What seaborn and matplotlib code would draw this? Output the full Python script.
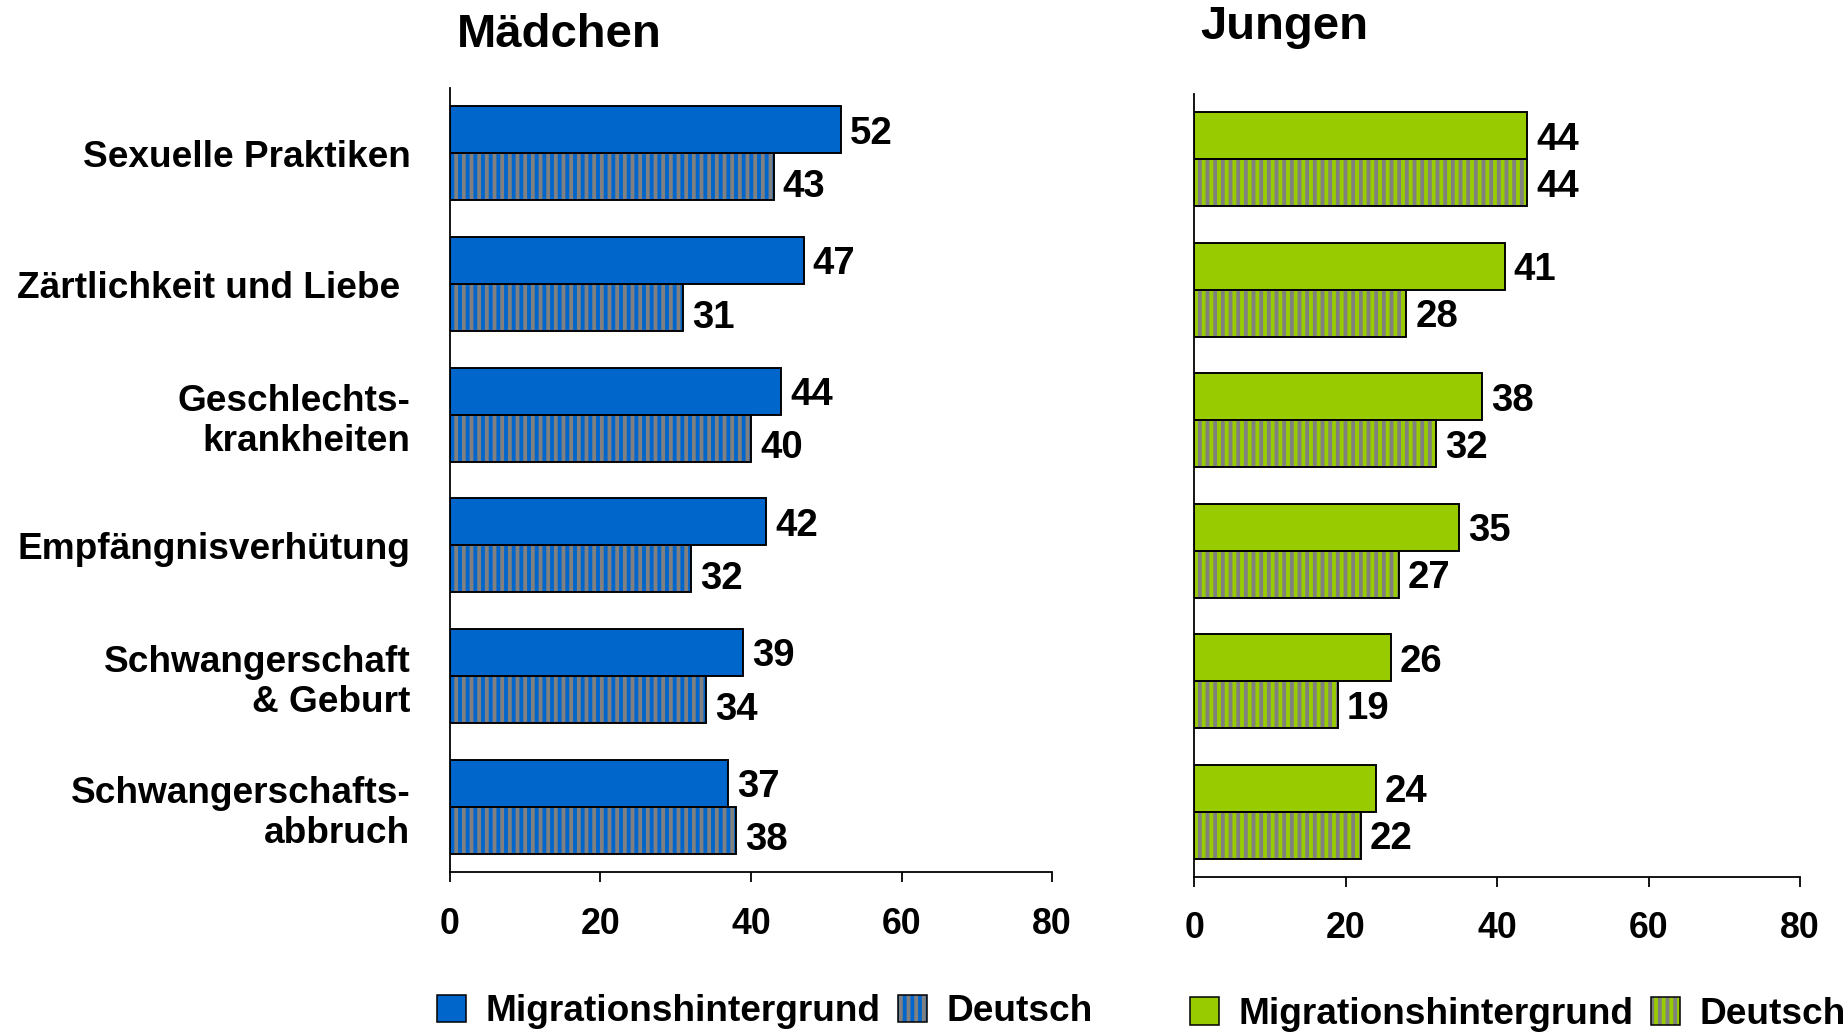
import pandas as pd
import matplotlib.pyplot as plt
import seaborn as sns
from matplotlib.patches import Patch, Rectangle

categories = ["Sexuelle Praktiken", "Zärtlichkeit und Liebe ", "Geschlechts-\nkrankheiten",
              "Empfängnisverhütung", "Schwangerschaft\n& Geburt", "Schwangerschafts-\nabbruch"]
groups = ["Migrationshintergrund", "Deutsch"]
maedchen_migration = [52, 47, 44, 42, 39, 37]
maedchen_deutsch = [43, 31, 40, 32, 34, 38]
jungen_migration = [44, 41, 38, 35, 26, 24]
jungen_deutsch = [44, 28, 32, 27, 19, 22]
x_ticks = [0, 20, 40, 60, 80]

blue = "#0066cc"
green = "#99cc00"
stripe = "#808080"
DPI = 92

sns.set_style("white", {"axes.edgecolor": "black", "xtick.color": "black", "ytick.color": "black",
                        "text.color": "black", "axes.labelcolor": "black"})
plt.rcParams["font.family"] = ["Liberation Sans", "DejaVu Sans"]
plt.rcParams["font.weight"] = "bold"
plt.rcParams["hatch.linewidth"] = 3.0


def draw_panel(ax, mig, deu, color, show_labels, low_offset):
    df = pd.DataFrame({"Thema": categories * 2,
                       "Gruppe": [groups[0]] * len(mig) + [groups[1]] * len(deu),
                       "Wert": mig + deu})
    sns.barplot(data=df, x="Wert", y="Thema", hue="Gruppe", order=categories, hue_order=groups,
                palette={groups[0]: color, groups[1]: color}, saturation=1, width=0.72, gap=0,
                orient="h", edgecolor=stripe, linewidth=0, legend=False, errorbar=None, ax=ax)
    values = [mig, deu]
    for k, cont in enumerate(ax.containers):
        for i, p in enumerate(cont):
            if k == 1:
                p.set_hatch("||")
            ax.add_patch(Rectangle(p.get_xy(), p.get_width(), p.get_height(), fill=False,
                                   edgecolor="black", linewidth=1.5, zorder=3))
            ax.annotate(f"{values[k][i]}", xy=(values[k][i], p.get_y() + p.get_height() / 2),
                        xytext=(7, -3 - (low_offset if k == 1 else 0)), textcoords="offset points",
                        ha="left", va="center", fontsize=30, fontweight="bold")
    ax.set_xlim(0, 80)
    ax.set_ylim(5.5, -0.5)
    ax.set_xticks(x_ticks)
    ax.set_xlabel("")
    ax.set_ylabel("")
    sns.despine(ax=ax)
    for s in ["left", "bottom"]:
        ax.spines[s].set_linewidth(1.4)
        ax.spines[s].set_color("black")
    ax.tick_params(axis="x", bottom=True, length=8, width=1.4, pad=19, labelsize=28)
    ax.tick_params(axis="y", left=False, length=0, pad=31, labelsize=29)
    if not show_labels:
        ax.tick_params(axis="y", labelleft=False)


def add_legend(ax, fig, color, x, y):
    h_mig = Patch(facecolor=color, edgecolor="black", linewidth=1.2)
    h_deu = (Patch(facecolor=color, edgecolor=stripe, hatch="||", linewidth=0),
             Patch(fill=False, edgecolor="black", linewidth=1.2))
    ax.legend([h_mig, h_deu], groups, loc="center left", bbox_to_anchor=(x, y),
              bbox_transform=fig.transFigure, ncol=2, frameon=False, fontsize=29,
              handlelength=0.78, handleheight=0.78, handletextpad=0.54, columnspacing=0.46,
              borderpad=0, borderaxespad=0)


fig = plt.figure(figsize=(1847 / DPI, 1032 / DPI), dpi=DPI)
ax1 = fig.add_axes([0.2436, 0.155, 0.326, 0.7597])
ax2 = fig.add_axes([0.6465, 0.1502, 0.3281, 0.7587])

draw_panel(ax1, maedchen_migration, maedchen_deutsch, blue, True, 5)
draw_panel(ax2, jungen_migration, jungen_deutsch, green, False, 0)

add_legend(ax1, fig, blue, 0.2366, 0.0195)
add_legend(ax2, fig, green, 0.6443, 0.0170)

fig.text(0.2474, 0.9545, "Mädchen", fontsize=37, fontweight="bold", ha="left", va="baseline")
fig.text(0.6497, 0.962, "Jungen", fontsize=37, fontweight="bold", ha="left", va="baseline")

fig.savefig("out.png", dpi=DPI)
